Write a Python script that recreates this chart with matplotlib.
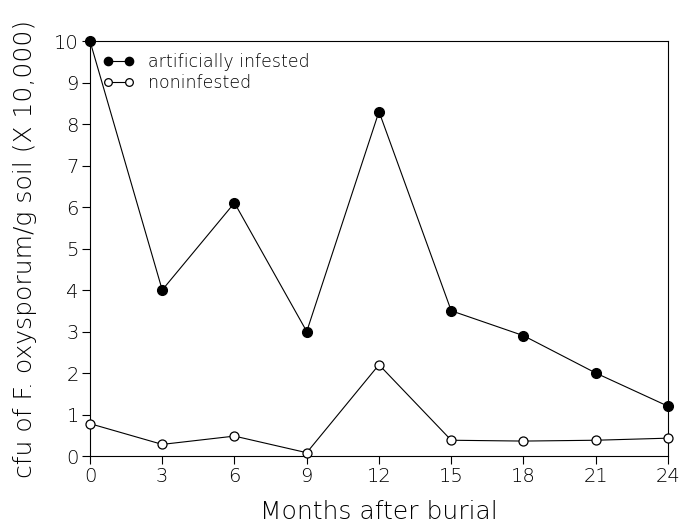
import numpy as np
import matplotlib.pyplot as plt

# datos
months = [0, 3, 6, 9, 12, 15, 18, 21, 24]
infested = [10.0, 4.0, 6.1, 3.0, 8.3, 3.5, 2.9, 2.0, 1.2]
noninfested = [0.78, 0.28, 0.48, 0.08, 2.2, 0.38, 0.36, 0.38, 0.43]
xticks = [0, 3, 6, 9, 12, 15, 18, 21, 24]
yticks = list(range(0, 11))

plt.rcParams['font.family'] = 'DejaVu Sans'
plt.rcParams['font.weight'] = 'light'
plt.rcParams['axes.labelweight'] = 'light'
fig = plt.figure(figsize=(6.79, 5.25), dpi=100)
ax = fig.add_axes([0.1325, 0.1314, 0.8513, 0.7905])

ax.plot(months, infested, '-o', color='black', lw=0.8, ms=7,
        mfc='black', mec='black', clip_on=False, zorder=3, label='artificially infested')
ax.plot(months, noninfested, '-o', color='black', lw=0.8, ms=6.5,
        mfc='white', mec='black', mew=0.9, clip_on=False, zorder=3, label='noninfested')

ax.set_xlim(0, 24)
ax.set_ylim(0, 10)
ax.set_xticks(xticks)
ax.set_yticks(yticks)
ax.tick_params(direction='out', length=5.5, width=0.8, labelsize=14, pad=2.5)
for s in ax.spines.values():
    s.set_linewidth(0.8)

ax.set_xlabel('Months after burial', fontsize=18, labelpad=10)
ax.set_ylabel('cfu of F. oxysporum/g soil (X 10,000)', fontsize=18, labelpad=12)

ax.legend(loc='upper left', frameon=False, numpoints=2, fontsize=12.5,
          handlelength=1.8, handletextpad=0.8, labelspacing=0.15,
          borderpad=0, borderaxespad=0, markerscale=0.85,
          bbox_to_anchor=(0.0225, 0.97))

fig.savefig('out.png', dpi=100)
